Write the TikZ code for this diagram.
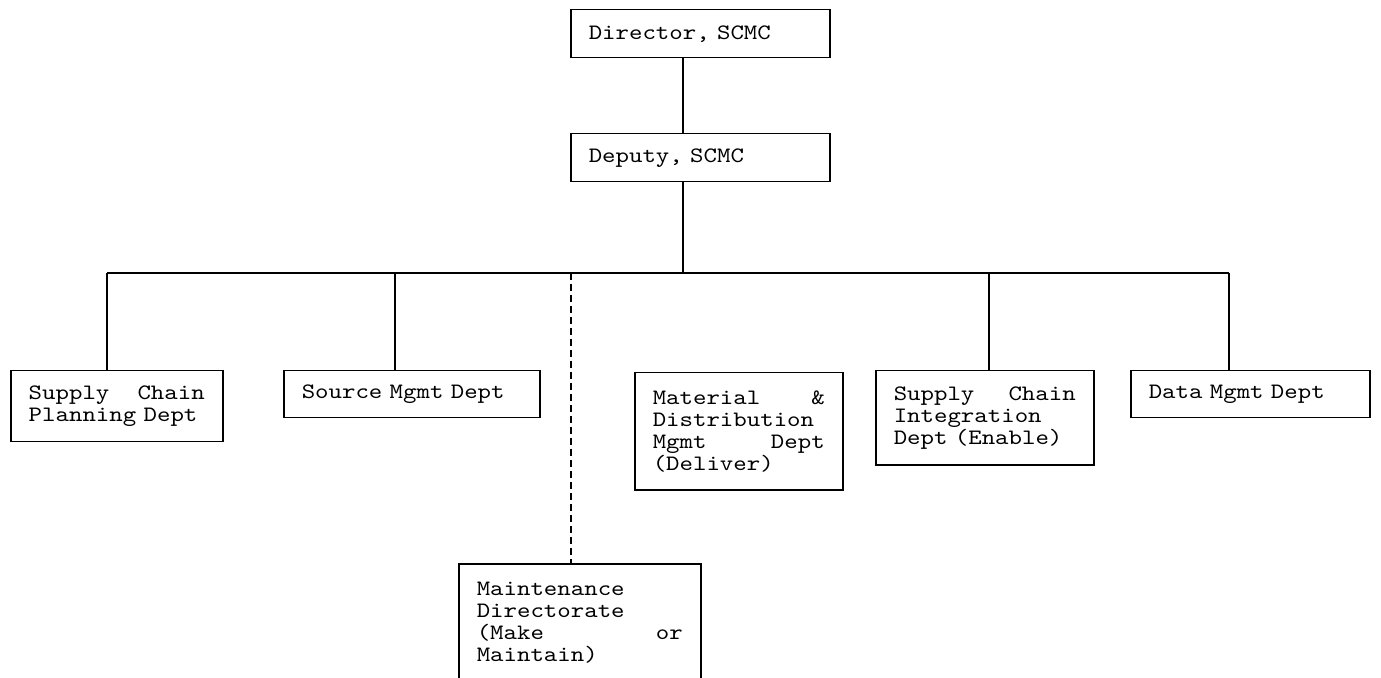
\documentclass[tikz,border=0pt]{standalone}
\usepackage{fontspec}
\usepackage{tikz}
\usetikzlibrary{positioning, calc}
\setmonofont{Latin Modern Mono}[FakeStretch=1.164, WordSpace=1.164]
\setlength{\parindent}{0pt}

\begin{document}
\begin{tikzpicture}[
			x=0.5pt, y=-0.5pt,
			line width=0.75pt,
			unit/.style={draw, rectangle, anchor=north west, align=left, inner xsep=9pt, inner ysep=4pt,
				font=\ttfamily\fontsize{11}{11}\selectfont},
			link/.style={draw},
			dotlink/.style={draw, dash pattern=on 3.5pt off 2pt}
			]
			\useasboundingbox (0,0) rectangle (1381,678);
			
			% --- Boxes of the organisation ---
			\node[unit, text width=111.5pt, minimum height=24pt] (director) at (570,9) {Director, SCMC}; % top
			\node[unit, text width=111.5pt, minimum height=24pt] (deputy) at (570,133) {Deputy, SCMC};
			\node[unit, text width=88pt, minimum height=35.5pt] (planning) at (10,370) {Supply\hfill Chain\\Planning Dept};
			\node[unit, text width=110pt, minimum height=23.5pt] (source) at (283,370) {Source Mgmt Dept};
			\node[unit, text width=86pt, minimum height=58.5pt] (material) at (634,372) {Material\hfill \&\\Distribution\\Mgmt\hfill Dept\\(Deliver)};
			\node[unit, text width=91pt, minimum height=47pt] (integration) at (875,370) {Supply\hfill Chain\\Integration\\Dept (Enable)};
			\node[unit, text width=101.5pt, minimum height=23.5pt] (data) at (1130,370) {Data Mgmt Dept};
			\node[unit, text width=103pt, minimum height=58.5pt] (maintenance) at (458,563) {Maintenance\\Directorate\\(Make\hfill or\\Maintain)};
			
			% --- Points on the bus line ---
			\coordinate (trunk) at (683,273);
			\coordinate (busW) at (107,273);
			\coordinate (busE) at (1229,273);
			\coordinate (dropsource) at (395,273);
			\coordinate (dropmaint) at (571,273);
			\coordinate (dropint) at (989,273);
			
			% --- Connectors ---
			\draw[link] (director.south -| trunk) -- (deputy.north -| trunk);
			\draw[link] (deputy.south -| trunk) -- (trunk);
			\draw[link] (busW) -- (busE);
			\draw[link] (busW) -- (busW |- planning.north);
			\draw[link] (dropsource) -- (dropsource |- source.north);
			\draw[link] (dropint) -- (dropint |- integration.north);
			\draw[link] (busE) -- (busE |- data.north);
			\draw[dotlink] (dropmaint) -- (dropmaint |- maintenance.north); % dashed line to maintenance
			
		\end{tikzpicture}
\end{document}
